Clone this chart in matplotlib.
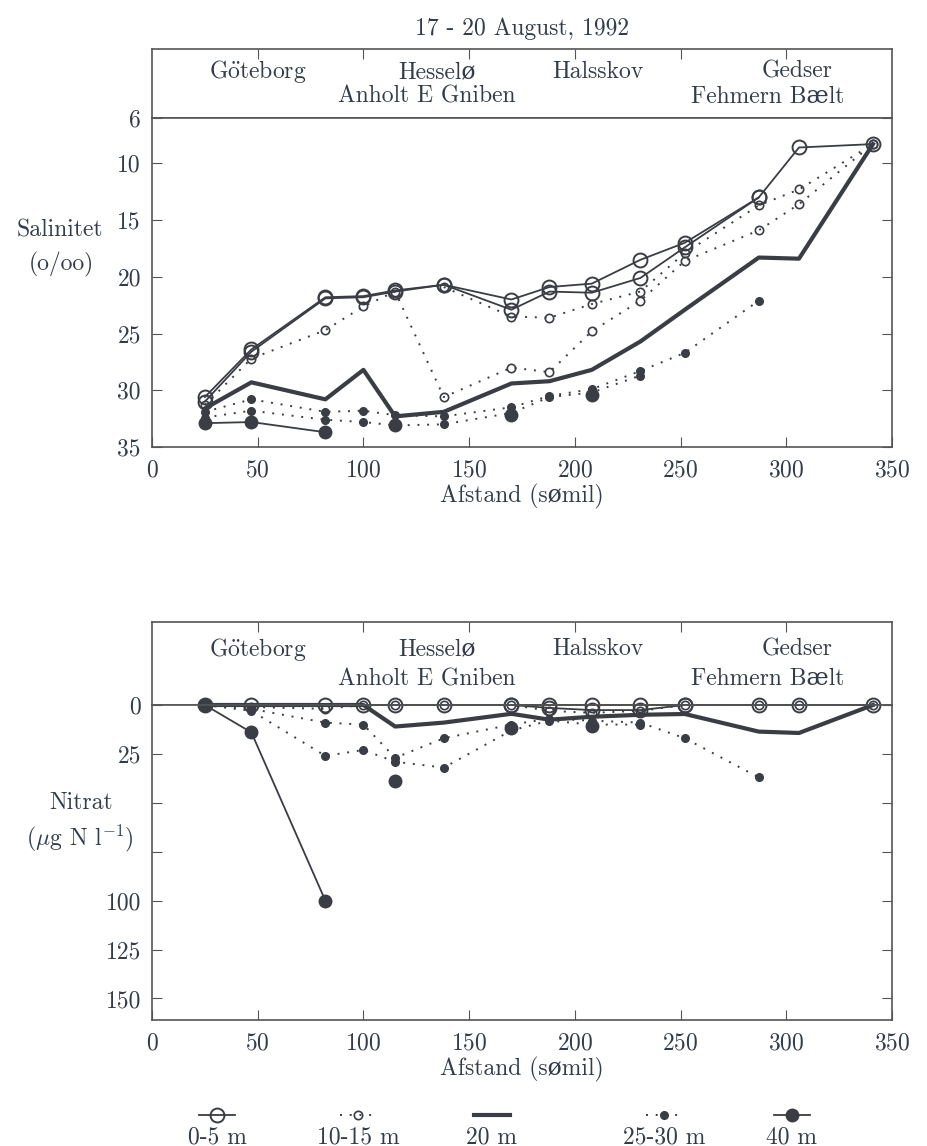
import numpy as np
import matplotlib
matplotlib.use('Agg')
import matplotlib.pyplot as plt
from matplotlib.lines import Line2D

plt.rcParams['font.family'] = ['cmr10', 'DejaVu Serif']
plt.rcParams['mathtext.fontset'] = 'cm'
plt.rcParams['axes.formatter.use_mathtext'] = True

nan = np.nan

# station distances along the transect (sømil)
stations = [25, 47, 82, 100, 115, 138, 170, 188, 208, 231, 252, 287, 306, 341]

# salinity (o/oo)
sal_0_5a = [30.6, 26.4, 21.8, 21.7, 21.2, 20.7, 22.0, 20.9, 20.6, 18.5, 17.0, 13.0, 8.6, 8.3]
sal_0_5b = [31.0, 26.6, 21.9, 21.8, 21.3, 20.7, 22.9, 21.3, 21.4, 20.1, 17.4, 13.0, nan, nan]
sal_10_15a = [31.3, 27.2, 24.7, 22.6, 21.3, 30.6, 28.0, 28.4, 24.8, 22.1, 18.6, 15.9, 13.6, 8.3]
sal_10_15b = [nan, nan, nan, nan, nan, 20.9, 23.5, 23.6, 22.4, 21.3, 17.9, 13.7, 12.3, 8.3]
sal_20 = [31.6, 29.3, 30.8, 28.2, 32.3, 31.9, 29.4, 29.2, 28.2, 25.7, 22.9, 18.3, 18.4, 8.3]
sal_25_30a = [31.9, 30.8, 31.9, 31.8, 32.2, 32.3, 31.5, 30.5, 29.9, 28.3, 26.7, 22.1, nan, nan]
sal_25_30b = [32.4, 31.8, 32.6, 32.8, 33.1, 33.0, 32.0, 30.6, 30.2, 28.7, nan, nan, nan, nan]
sal_40 = [32.9, 32.8, 33.7, nan, 33.1, nan, 32.2, nan, 30.4, nan, nan, nan, nan, nan]

# nitrate (ug N / l)
nit_0_5a = [0, 0, 0, 0, 0, 0, 0, 0, 0, 0, 0, 0, 0, 0]
nit_0_5b = [nan, nan, nan, nan, nan, nan, 0, 1.5, 2.6, 2.6, 0, nan, nan, nan]
nit_10_15 = [0, 1, 2, 0, 0, 0, 0, 3, 4, 3, 0, 0, 0, 0]
nit_20 = [0, 0, 0, 0, 11, 9, 4.5, 7.5, 6, 5, 4.6, 13.6, 14.3, 0]
nit_25_30a = [0, 2, 9, 10, 27, 17, 10, 7, 8, 9, 17, 37, nan, nan]
nit_25_30b = [0, 3, 26, 23, 29, 32, 13, 8, 10, 10, nan, nan, nan, nan]
nit_40 = [0, 14, 100, nan, 39, nan, 12, nan, 10.6, nan, nan, nan, nan, nan]

# place names above each panel
names_top = [r'G$\ddot{\mathrm{o}}$teborg', 'Hesselø', 'Halsskov', 'Gedser']
names_top_x = [50, 135, 211, 305]
names_low = ['Anholt E Gniben', 'Fehmern Bælt']
names_low_x = [130, 291]

depths = ['0-5 m', '10-15 m', '20 m', '25-30 m', '40 m']

ink = '#323c4a'
lc = '#3a3d44'
W, H = 928, 1146
fs = 17

dot = (0, (1, 4))
styles = {
    '0-5': dict(color=lc, lw=1.3, marker='o', ms=10, mfc='none', mec=lc, mew=1.4),
    '10-15': dict(color=lc, lw=1.4, ls=dot, marker='o', ms=6, mfc='none', mec=lc, mew=1.2),
    '20': dict(color=lc, lw=3.0),
    '25-30': dict(color=lc, lw=1.4, ls=dot, marker='o', ms=5.5, mfc=lc, mec=lc),
    '40': dict(color=lc, lw=1.3, marker='o', ms=9, mfc=lc, mec=lc),
}


def px_axes(fig, x0, y0, x1, y1):
    return fig.add_axes([x0 / W, 1 - y1 / H, (x1 - x0) / W, (y1 - y0) / H])


def name_box(ax):
    ax.set_xlim(0, 350)
    ax.set_ylim(0, 1)
    ax.set_yticks([])
    ax.set_xticks(range(50, 301, 50))
    ax.tick_params(axis='x', direction='in', top=True, bottom=False,
                   labeltop=False, labelbottom=False, length=7, color='#555')
    for s in ax.spines.values():
        s.set_color('#555')
        s.set_linewidth(1.2)
    for n, x in zip(names_top, names_top_x):
        ax.text(x, 0.67, n, ha='center', va='center', fontsize=fs, color=ink)
    for n, x in zip(names_low, names_low_x):
        ax.text(x, 0.31, n, ha='center', va='center', fontsize=fs, color=ink)


def data_axes(ax, ylim, yticks, ylabels):
    ax.set_xlim(0, 350)
    ax.set_ylim(*ylim)
    ax.set_xticks(range(0, 351, 50))
    ax.set_yticks(yticks)
    ax.set_yticklabels(ylabels)
    ax.tick_params(direction='in', length=7, color='#555', labelsize=fs,
                   labelcolor=ink, right=True, pad=8)
    ax.tick_params(axis='x', pad=9)
    for s in ax.spines.values():
        s.set_color('#555')
        s.set_linewidth(1.2)
    ax.set_xlabel('Afstand (sømil)', fontsize=fs, color=ink, labelpad=2)


fig = plt.figure(figsize=(W / 100, H / 100), dpi=100)

# salinity panel
box1 = px_axes(fig, 152, 49, 892, 118)
name_box(box1)
box1.set_title('17 - 20 August, 1992', fontsize=fs, color=ink, pad=10)
ax1 = px_axes(fig, 152, 118, 892, 447)
data_axes(ax1, (35, 6), [6, 10, 15, 20, 25, 30, 35],
          ['6', '10', '15', '20', '25', '30', '35'])
ax1.plot(stations, sal_40, **styles['40'])
ax1.plot(stations, sal_25_30a, **styles['25-30'])
ax1.plot(stations, sal_25_30b, **styles['25-30'])
ax1.plot(stations, sal_20, **styles['20'])
ax1.plot(stations, sal_10_15a, **styles['10-15'])
ax1.plot(stations, sal_10_15b, **styles['10-15'])
ax1.plot(stations, sal_0_5b, **styles['0-5'])
ax1.plot(stations, sal_0_5a, **styles['0-5'])
fig.text(60 / W, 1 - 230 / H, 'Salinitet', ha='center', va='center',
         fontsize=fs, color=ink)
fig.text(61 / W, 1 - 264 / H, '(o/oo)', ha='center', va='center',
         fontsize=fs, color=ink)

# nitrate panel
box2 = px_axes(fig, 152, 622, 892, 705)
name_box(box2)
ax2 = px_axes(fig, 152, 705, 892, 1020)
data_axes(ax2, (161, 0), [0, 25, 50, 75, 100, 125, 150],
          ['0', '25', '', '', '100', '125', '150'])
ax2.plot(stations, nit_40, clip_on=False, **styles['40'])
ax2.plot(stations, nit_25_30a, clip_on=False, **styles['25-30'])
ax2.plot(stations, nit_25_30b, clip_on=False, **styles['25-30'])
ax2.plot(stations, nit_20, clip_on=False, **styles['20'])
ax2.plot(stations, nit_10_15, clip_on=False, **styles['10-15'])
ax2.plot(stations, nit_0_5b, clip_on=False, **styles['0-5'])
ax2.plot(stations, nit_0_5a, clip_on=False, **styles['0-5'])
fig.text(81 / W, 1 - 803 / H, 'Nitrat', ha='center', va='center',
         fontsize=fs, color=ink)
fig.text(80 / W, 1 - 838 / H, r'($\mu$g N l$^{-1}$)', ha='center',
         va='center', fontsize=fs, color=ink)

# legend row: symbol above each depth label
leg = px_axes(fig, 0, 1100, W, 1146)
leg.set_xlim(0, W)
leg.set_ylim(46, 0)
leg.axis('off')
keys = ['0-5', '10-15', '20', '25-30', '40']
centers = [217, 358, 492, 664, 792]
for k, name, cx in zip(keys, depths, centers):
    st = dict(styles[k])
    leg.add_line(Line2D([cx - 18, cx, cx + 18], [15, 15, 15], markevery=[1], **st))
    leg.text(cx, 37, name, ha='center', va='center', fontsize=fs, color=ink)

fig.savefig('out.png', dpi=100)
